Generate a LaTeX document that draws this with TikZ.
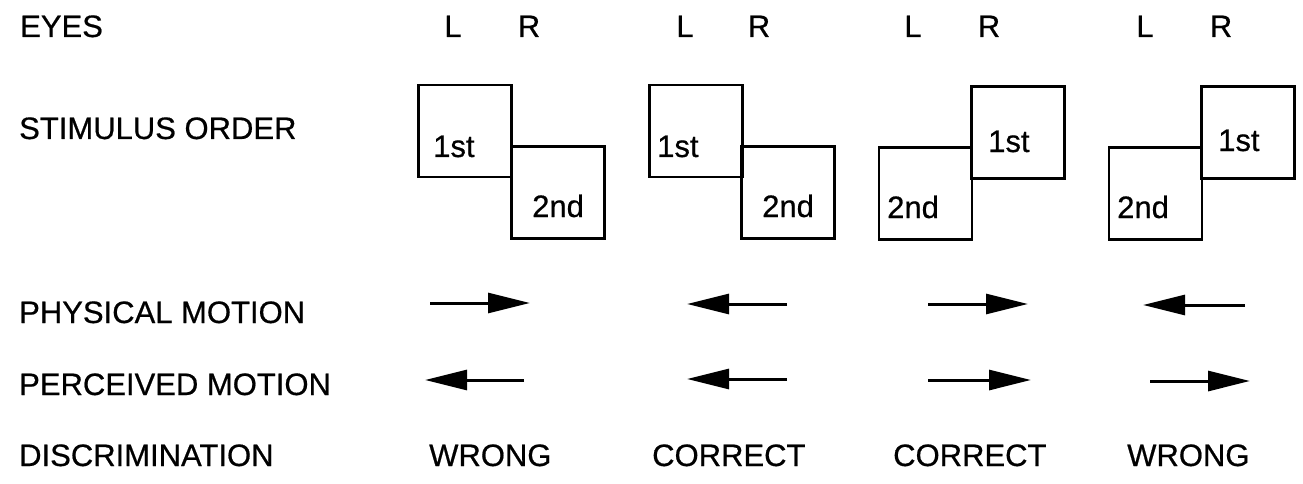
\documentclass[tikz,border=0pt]{standalone}
\usepackage{fontspec}
\setmainfont{Liberation Sans}[FakeBold=0.6]
\usetikzlibrary{arrows.meta}
\begin{document}
\begin{tikzpicture}[x=1pt,y=-1pt,
  lbl/.style={anchor=base west,inner sep=0pt,font=\fontsize{31}{36}\selectfont},
  eye/.style={anchor=base,inner sep=0pt,font=\fontsize{31}{36}\selectfont},
  stim/.style={draw,line width=2.2pt,minimum width=93pt,minimum height=92pt,inner sep=0pt},
  mv/.style={line width=3pt,-{Triangle[length=42pt,width=20pt]},fill=black!85}]
\path[use as bounding box] (0,0) rectangle (1303,484);
% row labels
\node[lbl] (eyes) at (20,37) {EYES};
\node[lbl] (stimulus) at (19,139) {STIMULUS ORDER};
\node[lbl] (physical) at (19,323) {PHYSICAL MOTION};
\node[lbl] (perceived) at (19,395) {PERCEIVED MOTION};
\node[lbl] (discrim) at (19,466) {DISCRIMINATION};
% eyes
\node[eye] (l1) at (453,37) {L};
\node[eye] (r1) at (529,37) {R};
\node[eye] (l2) at (685,37) {L};
\node[eye] (r2) at (759,37) {R};
\node[eye] (l3) at (913,37) {L};
\node[eye] (r3) at (989,37) {R};
\node[eye] (l4) at (1145,37) {L};
\node[eye] (r4) at (1221,37) {R};
% group 1
\node[stim] (a1) at (465,131) {};
\node[stim] (b1) at (558,192.5) {};
\node[lbl] (a1t) at (433,157) {1st};
\node[lbl] (b1t) at (532,217) {2nd};
% group 2
\node[stim] (a2) at (696,131) {};
\node[stim] (b2) at (788,192.5) {};
\node[lbl] (a2t) at (657,157) {1st};
\node[lbl] (b2t) at (762,217) {2nd};
% group 3
\node[stim] (b3) at (925.5,193.5) {};
\node[stim] (a3) at (1018,132.5) {};
\node[lbl] (a3t) at (988,152) {1st};
\node[lbl] (b3t) at (887,218) {2nd};
% group 4
\node[stim] (b4) at (1155.5,193.5) {};
\node[stim] (a4) at (1248,132.5) {};
\node[lbl] (a4t) at (1218,151) {1st};
\node[lbl] (b4t) at (1117,218) {2nd};
% arrow end points
\coordinate (p1s) at (430,303); \coordinate (p1e) at (530,303);
\coordinate (p2s) at (787,304); \coordinate (p2e) at (687,304);
\coordinate (p3s) at (928,304); \coordinate (p3e) at (1028,304);
\coordinate (p4s) at (1245,305); \coordinate (p4e) at (1143,305);
\coordinate (q1s) at (524,380); \coordinate (q1e) at (425,380);
\coordinate (q2s) at (787,379); \coordinate (q2e) at (687,379);
\coordinate (q3s) at (928,380); \coordinate (q3e) at (1031,380);
\coordinate (q4s) at (1150,381); \coordinate (q4e) at (1250,381);
\draw[mv] (p1s) -- (p1e);
\draw[mv] (p2s) -- (p2e);
\draw[mv] (p3s) -- (p3e);
\draw[mv] (p4s) -- (p4e);
\draw[mv] (q1s) -- (q1e);
\draw[mv] (q2s) -- (q2e);
\draw[mv] (q3s) -- (q3e);
\draw[mv] (q4s) -- (q4e);
% discrimination
\node[lbl] (d1) at (429,466) {WRONG};
\node[lbl] (d2) at (652,466) {CORRECT};
\node[lbl] (d3) at (893,466) {CORRECT};
\node[lbl] (d4) at (1127,466) {WRONG};
\end{tikzpicture}
\end{document}
